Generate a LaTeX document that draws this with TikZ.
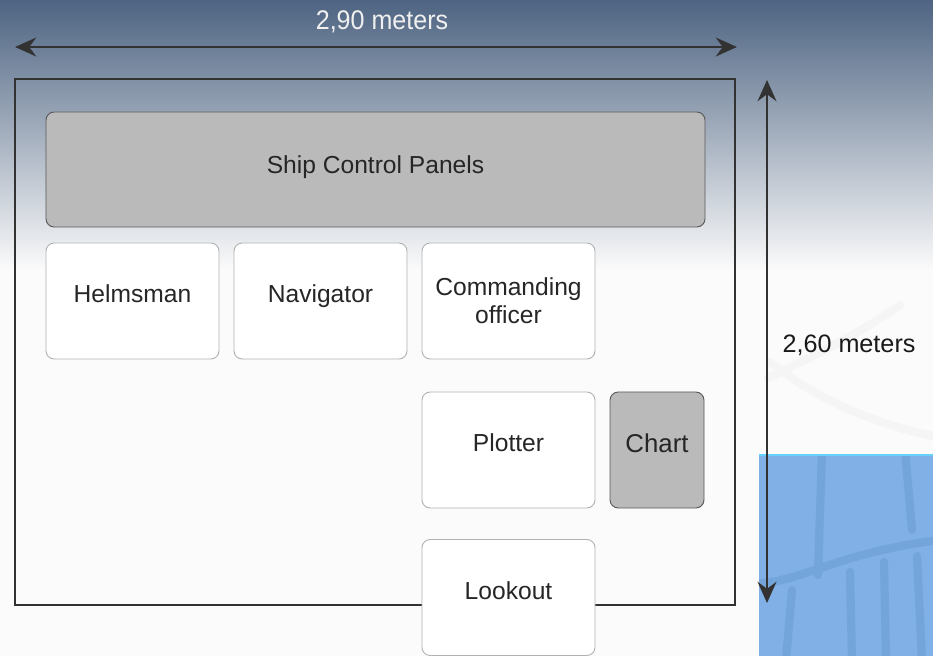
\documentclass[tikz,border=0pt]{standalone}
\usepackage{fontspec}
\setmainfont{Liberation Sans}
\usetikzlibrary{arrows.meta}

\definecolor{skytop}{RGB}{78,100,130}
\definecolor{paper}{RGB}{251,251,251}
\definecolor{seablue}{RGB}{128,176,230}
\definecolor{seadark}{RGB}{116,165,218}
\definecolor{panelgray}{RGB}{186,186,186}
\definecolor{linegray}{RGB}{50,50,50}

\tikzset{
	station/.style={draw=black!30,fill=white,rounded corners=7pt,line width=0.8pt,
		minimum width=5.19cm,minimum height=3.48cm,align=center,text=black!85,
		font=\fontsize{21}{24}\selectfont},
	grayblock/.style={station,fill=panelgray,draw=black!65},
	oneline/.style={text depth=0.42cm},
	measure/.style={draw=linegray,line width=2.4pt,
		{Stealth[length=18pt,width=16pt]}-{Stealth[length=18pt,width=16pt]}},
	mark line/.style={line width=7pt,line cap=round},
}

\begin{document}
\begin{tikzpicture}[x=0.03cm,y=-0.03cm]
	\useasboundingbox (0,0) rectangle (933,656);
	\fill [paper] (0,0) rectangle (933,656);
	\shade [top color=skytop,bottom color=paper] (0,0) rectangle (933,270);
	
	% faint emblem on the right
	\draw [black!4,mark line] (900,305) .. controls (850,340) and (800,362) .. (768,378);
	\draw [black!4,mark line] (770,362) .. controls (820,402) and (880,425) .. (933,436);
	\fill [seablue] (759,455) rectangle (933,656);
	\draw [blue!30!cyan!60,line width=1pt] (759,455) -- (933,455);
	\begin{scope}
		\clip (759,456) rectangle (933,656);
		\draw [seadark,mark line] (822,450) -- (818,575);
		\draw [seadark,mark line] (905,450) -- (912,530);
		\draw [seadark,mark line] (760,583) .. controls (800,582) and (840,552) .. (940,540);
		\draw [seadark,mark line] (792,590) -- (786,660);
		\draw [seadark,mark line] (850,572) -- (852,660);
		\draw [seadark,mark line] (884,562) -- (886,660);
		\draw [seadark,mark line] (917,556) -- (922,660);
	\end{scope}
	
	% room outline
	\draw [linegray,line width=2.4pt] (15,79) rectangle (735,605);
	
	\node (panels) [grayblock,minimum width=19.77cm,minimum height=3.45cm,text depth=0.27cm] at (375.5,169.5) {Ship Control Panels};
	\node (helm) [station,oneline] at (132.5,301) {Helmsman};
	\node (nav) [station,oneline] at (320.5,301) {Navigator};
	\node (co) [station] at (508.5,301) {Commanding\\officer};
	\node (plot) [station,oneline] at (508.5,450) {Plotter};
	\node (chart) [grayblock,oneline,minimum width=2.82cm,font=\fontsize{22}{25}\selectfont] at (657,450) {Chart};
	\node (look) [station,oneline] at (508.5,597.5) {Lookout};
	
	% dimensions
	\coordinate (wl) at (15,47);
	\coordinate (wr) at (737,47);
	\coordinate (ht) at (767,80);
	\coordinate (hb) at (767,603);
	\draw [measure] (wl) -- (wr);
	\draw [measure] (ht) -- (hb);
	\node (width) [font=\fontsize{23}{25}\selectfont,xscale=0.93,text=black!6] at (382,22) {2,90 meters};
	\node (height) [font=\fontsize{21.5}{25}\selectfont,text=black!90] at (849,345) {2,60 meters};
\end{tikzpicture}
\end{document}
